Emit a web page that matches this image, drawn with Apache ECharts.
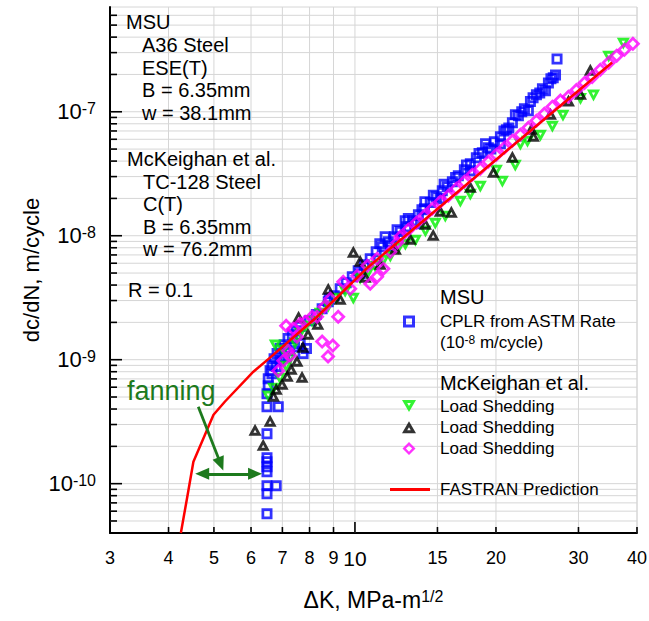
<!DOCTYPE html>
<html>
<head>
<meta charset="utf-8">
<script src="https://cdn.jsdelivr.net/npm/echarts@6/dist/echarts.min.js"></script>
<style>html,body{margin:0;padding:0;background:#fff}#c{width:649px;height:621px}</style>
</head>
<body>
<div id="c"></div>
<script>
const FONT = '"Liberation Sans", Arial, sans-serif';

// ---- axis tick values ----
const xTickLabels = [3, 4, 5, 6, 7, 8, 9, 10, 15, 20, 30, 40];
const yGridValues = [5e-11, 6e-11, 7e-11, 8e-11, 9e-11,
  1e-10, 2e-10, 3e-10, 4e-10, 5e-10, 6e-10, 7e-10, 8e-10, 9e-10,
  1e-9, 2e-9, 3e-9, 4e-9, 5e-9, 6e-9, 7e-9, 8e-9, 9e-9,
  1e-8, 2e-8, 3e-8, 4e-8, 5e-8, 6e-8, 7e-8, 8e-8, 9e-8,
  1e-7, 2e-7, 3e-7, 4e-7, 5e-7, 6e-7];
const yTickLabels = [1e-10, 1e-9, 1e-8, 1e-7];

// ---- data: [deltaK (MPa-m^1/2), dc/dN (m/cycle)] ----
const msuCplr = [
  [6.49,5.73e-11],[6.49,8.3e-11],[6.49,9.64e-11],[6.79,9.6e-11],[6.49,1.25e-10],[6.49,1.37e-10],
  [6.49,1.5e-10],[6.49,1.62e-10],[6.49,2.53e-10],[6.49,4.18e-10],[6.86,4.18e-10],[6.49,5.32e-10],[6.53,6.17e-10],
  [6.53,7.03e-10],[6.59,8.15e-10],[6.65,9.12e-10],[6.72,1.02e-9],[6.82,1.12e-9],[6.92,1.23e-9],[7.06,1.32e-9],
  [7.2,1.48e-9],[7.35,1.59e-9],[7.5,1.71e-9],[7.64,1.85e-9],[6.65,7.7e-10],[6.79,8.8e-10],[6.92,9.8e-10],
  [7.08,1.06e-9],[7.25,1.18e-9],[7.43,1.27e-9],[7.64,1.35e-9],[7.75,1.12e-9],[7.88,1.23e-9],
  [7.99,2.06e-9],[8.27,2.31e-9],[8.51,2.58e-9],[8.77,2.94e-9],[9.03,3.28e-9],[9.3,3.74e-9],[9.58,4.18e-9],
  [9.87,4.67e-9],[10.16,5.22e-9],[10.47,5.83e-9],[10.78,6.53e-9],
  [11.1,7.43e-9],[11.44,8.15e-9],[11.78,8.95e-9],[12.13,9.82e-9],[12.5,1.08e-8],[12.88,1.18e-8],[13.26,1.32e-8],
  [13.66,1.48e-8],[14.07,1.65e-8],[14.48,1.85e-8],[14.92,2.06e-8],[15.36,2.31e-8],[15.74,2.48e-8],[16.14,2.72e-8],
  [16.62,3.05e-8],[17.12,3.4e-8],[17.63,3.81e-8],[18.16,4.26e-8],[18.7,4.67e-8],[19.26,5.12e-8],[19.84,5.73e-8],
  [20.44,6.28e-8],[21.05,7.16e-8],[21.68,8.15e-8],[22.33,9.28e-8],[23.0,1.06e-7],[23.69,1.21e-7],[24.4,1.37e-7],
  [25.13,1.53e-7],[25.88,1.71e-7],[26.5,1.88e-7],[27.0,2.67e-7],
  [15.2,1.99e-8],[17.63,3.34e-8],[20.44,5.52e-8],[23.45,1.02e-7],[25.5,1.48e-7],[13.46,1.25e-8],[11.9,8.15e-9],
  [10.26,4.94e-9],[8.81,3.1e-9],[11.6,9.8e-9],[12.8,1.32e-8],[14.1,1.88e-8],[19.0,5.52e-8],[22.0,9.46e-8],
  [11.3,8.6e-9],[12.3,1.12e-8],[13.0,1.38e-8],[13.9,1.62e-8],[14.7,2.12e-8],[15.5,2.6e-8],[16.4,2.95e-8],
  [17.3,3.72e-8],[18.4,4.6e-8],[19.5,5.0e-8],[20.8,7.0e-8],[21.3,7.4e-8],[22.7,1.0e-7],[24.0,1.3e-7],
  [24.8,1.42e-7],[26.2,1.85e-7],[26.8,1.98e-7]
];
const mckGreen = [
  [6.53,5.04e-10],[6.7,5.83e-10],[6.92,7.03e-10],[6.76,1.3e-9],[7.03,1.18e-9],[7.27,1.02e-9],[7.13,8.79e-10],
  [7.45,1.35e-9],[7.64,1.62e-9],[7.86,1.85e-9],[8.1,2.02e-9],[8.43,2.35e-9],[8.77,2.67e-9],[9.12,3.1e-9],
  [9.53,3.53e-9],[9.92,3.1e-9],[10.26,4.5e-9],[10.68,5.04e-9],[11.04,5.62e-9],[11.5,6.28e-9],[11.9,6.78e-9],
  [12.37,7.85e-9],[12.81,8.46e-9],[13.46,9.12e-9],[14.14,1.08e-8],[14.84,1.25e-8],[15.59,1.42e-8],[16.79,1.88e-8],
  [17.63,2.14e-8],[18.52,2.48e-8],[20.04,3.34e-8],[20.64,2.72e-8],[21.99,3.67e-8],[22.55,5.42e-8],[23.35,5.73e-8],
  [24.88,6.4e-8],[26.39,7.57e-8],[27.8,9.28e-8],[30.3,1.27e-7],[32.3,1.35e-7],[34.8,2.78e-7],[37.4,3.53e-7]
];
const mckBlack = [
  [6.12,2.72e-10],[6.37,2.06e-10],[6.59,3.22e-10],[6.79,5.83e-10],[6.99,6.4e-10],[6.7,5.13e-10],[7.17,7.43e-10],
  [7.71,7.29e-10],[7.31,8.46e-10],[7.52,9.82e-10],[7.94,1.62e-9],[7.74,1.27e-9],[7.58,2.22e-9],[8.77,3.74e-9],
  [8.33,1.95e-9],[9.3,3.1e-9],[9.92,7.43e-9],[10.26,6.28e-9],[10.52,4.67e-9],[11.32,5.94e-9],[12.2,7.85e-9],
  [13.13,9.46e-9],[14.69,1.02e-8],[16.06,1.56e-8],[14.14,1.25e-8],[15.21,1.59e-8],[17.63,2.48e-8],[19.75,3.28e-8],
  [21.68,4.34e-8],[24.04,6.4e-8],[26.14,9.63e-8],[28.56,1.23e-7],[31.8,2.18e-7],[30.3,1.4e-7],[23.8,7.29e-8]
];
const mckMagenta = [
  [6.86,8.15e-10],[7.03,9.82e-10],[7.2,1.18e-9],[7.27,1.08e-9],[7.13,1.88e-9],[7.38,1.78e-9],[7.64,1.95e-9],
  [7.83,2.02e-9],[8.1,2.22e-9],[8.3,2.22e-9],[8.51,1.4e-9],[8.97,1.3e-9],[8.76,1.06e-9],[9.21,2.22e-9],
  [8.86,3.1e-9],[8.6,2.67e-9],[9.44,4.26e-9],[9.77,3.74e-9],[10.11,4.75e-9],[10.63,5.73e-9],[10.78,4.1e-9],
  [11.15,4.67e-9],[11.5,5.42e-9],[11.9,7.43e-9],[11.15,6.53e-9],[12.32,8.79e-9],[7.52,1.53e-9],
  [12.5,9.82e-9],[13.0,1.12e-8],[13.53,1.27e-8],[14.07,1.45e-8],[14.62,1.65e-8],[15.21,1.88e-8],[15.82,2.1e-8],
  [16.46,2.39e-8],[17.12,2.72e-8],[17.8,3.1e-8],[18.52,3.47e-8],[19.26,3.95e-8],[20.04,4.5e-8],[20.84,5.12e-8],
  [21.68,5.83e-8],[22.55,6.53e-8],[23.45,7.43e-8],[24.4,8.46e-8],[25.37,9.63e-8],[26.39,1.1e-7],[27.45,1.23e-7],
  [28.56,1.32e-7],[29.7,1.5e-7],[30.9,1.71e-7],[32.1,1.91e-7],[33.4,2.18e-7],[34.8,2.48e-7],[36.2,2.83e-7],
  [37.6,3.16e-7],[39.2,3.53e-7]
];
const fastran = [
  [4.25,4.0e-11],[4.38,7.6e-11],[4.52,1.5e-10],[4.99,3.6e-10],[5.28,4.6e-10],[6.07,8.0e-10],[6.55,1.02e-9],
  [8.29,2.21e-9],[10.68,5.6e-9],[20.44,4.4e-8],[35.4,2.5e-7]
];
// "fanning" annotation arrows, in data coordinates
const fanningDiagonal = [[4.63,4.18e-10],[5.17,1.44e-10]];
const fanningHorizontal = [[4.72,1.2e-10],[6.12,1.2e-10]];

const annotationText = ['MSU','A36 Steel','ESE(T)','B = 6.35mm','w = 38.1mm',
  'McKeighan et al.','TC-128 Steel','C(T)','B = 6.35mm','w = 76.2mm','R = 0.1'];
const annotationPos = [[126,22],[142,45],[142,68],[142,90],[142,113],
  [127,159],[143,182],[143,204],[143,227],[143,249],[128,290]];

const GRID = '#d6d6d6';
const DKGREEN = '#1d7a1d';
// hollow marker outlines as ring paths (outer contour + reversed inner contour)
const SQUARE_RING = 'path://M0,0H12V12H0Z M3,3V9H9V3Z';
const DOWN_TRI_RING = 'path://M0,0L14,0L7,12Z M5.22,3L7,6.05L8.78,3Z';
const UP_TRI_RING = 'path://M7,0L14,12L0,12Z M7,5.95L5.22,9L8.78,9Z';
const DIAMOND_RING = 'path://M7,0L14,7L7,14L0,7Z M7,3.68L3.68,7L7,10.32L10.32,7Z';

function isDecade(v) { const l = Math.log10(v); return Math.abs(l - Math.round(l)) < 1e-6; }

const chart = echarts.init(document.getElementById('c'), null, {renderer: 'svg'});
chart.setOption({
  animation: false,
  backgroundColor: '#fff',
  grid: {left: 110, top: 7, right: 12, bottom: 88, show: true, borderColor: GRID, borderWidth: 1, backgroundColor: 'transparent'},
  xAxis: {
    type: 'log', logBase: 10, min: 3, max: 40,
    axisLine: {lineStyle: {color: '#000', width: 2}},
    axisTick: {show: false}, axisLabel: {show: false}, splitLine: {show: false},
    name: '{a|ΔK, MPa-m}{s|1/2}', nameLocation: 'middle', nameGap: 55,
    nameTextStyle: {rich: {
      a: {fontSize: 23, fontFamily: FONT, color: '#000'},
      s: {fontSize: 16, fontFamily: FONT, color: '#000', verticalAlign: 'top'}
    }}
  },
  yAxis: {
    type: 'log', logBase: 10, min: 4e-11, max: 7e-7,
    axisLine: {lineStyle: {color: '#000', width: 2}},
    axisTick: {show: false}, axisLabel: {show: false}, splitLine: {show: false},
    name: 'dc/dN, m/cycle', nameLocation: 'middle', nameGap: 68,
    nameTextStyle: {fontSize: 22, fontFamily: FONT, color: '#000'}
  },
  legend: [
    {data: ['CPLR from ASTM Rate'], left: 403, top: 313, orient: 'vertical', padding: 0,
     itemWidth: 12, itemHeight: 12, selectedMode: false,
     textStyle: {fontSize: 17, fontFamily: FONT, color: '#000', padding: [0, 0, 0, 20]}},
    {data: ['Load Shedding A', 'Load Shedding B', 'Load Shedding C'], formatter: () => 'Load Shedding',
     left: 402, top: 397.5, orient: 'vertical', padding: 0, itemGap: 4.3,
     itemWidth: 14, itemHeight: 13, selectedMode: false,
     textStyle: {fontSize: 17, fontFamily: FONT, color: '#000', padding: [0, 0, 0, 19]}},
    {data: [{name: 'FASTRAN Prediction', icon: 'rect'}], left: 390, top: 481, orient: 'vertical', padding: 0,
     itemWidth: 40, itemHeight: 3, selectedMode: false,
     textStyle: {fontSize: 17, fontFamily: FONT, color: '#000', padding: [0, 0, 0, 5]}}
  ],
  graphic: [
    ...annotationText.map((t, i) => ({type: 'text', x: annotationPos[i][0], y: annotationPos[i][1], silent: true, z: 50,
      style: {text: t, fontSize: 20, fontFamily: FONT, fill: '#000', verticalAlign: 'middle'}})),
    {type: 'text', x: 440, y: 297, silent: true, z: 50, style: {text: 'MSU', fontSize: 20, fontFamily: FONT, fill: '#000', verticalAlign: 'middle'}},
    {type: 'text', x: 440, y: 342, silent: true, z: 50, style: {text: '(10{s|-8} m/cycle)', fontSize: 17, fontFamily: FONT, fill: '#000', verticalAlign: 'middle',
      rich: {s: {fontSize: 12, fontFamily: FONT, fill: '#000', verticalAlign: 'top'}}}},
    {type: 'text', x: 440, y: 383, silent: true, z: 50, style: {text: 'McKeighan et al.', fontSize: 20, fontFamily: FONT, fill: '#000', verticalAlign: 'middle'}},
    {type: 'text', x: 127, y: 391, silent: true, z: 50, style: {text: 'fanning', fontSize: 27, fontFamily: FONT, fill: DKGREEN, verticalAlign: 'middle'}}
  ],
  series: [
    {type: 'custom', name: 'xaxis', silent: true, z: 1, clip: false,
     data: xTickLabels.map(v => [v, 1e-9]),
     renderItem: (params, api) => {
       const cs = params.coordSys; const v = api.value(0);
       const px = api.coord([v, api.value(1)])[0];
       const bottom = cs.y + cs.height; const major = Math.abs(v - 10) < 1e-9;
       const ch = [];
       if (v > 3.001) {
         ch.push({type: 'line', shape: {x1: px, y1: cs.y, x2: px, y2: bottom}, style: {stroke: GRID, lineWidth: 1}});
         ch.push({type: 'line', shape: {x1: px, y1: bottom, x2: px, y2: bottom - (major ? 11 : 6)}, style: {stroke: '#000', lineWidth: 1.6}});
       }
       ch.push({type: 'text', x: px, y: bottom + 25, style: {text: String(v), fontSize: major ? 21 : 18, fontFamily: FONT, fill: '#000', align: 'center', verticalAlign: 'middle'}});
       return {type: 'group', children: ch};
     }},
    {type: 'custom', name: 'ygrid', silent: true, z: 1, clip: false,
     data: yGridValues.map(v => [3, v]),
     renderItem: (params, api) => {
       const cs = params.coordSys; const v = api.value(1);
       const py = api.coord([api.value(0), v])[1];
       const major = isDecade(v);
       return {type: 'group', children: [
         {type: 'line', shape: {x1: cs.x, y1: py, x2: cs.x + cs.width, y2: py}, style: {stroke: GRID, lineWidth: 1}},
         {type: 'line', shape: {x1: cs.x, y1: py, x2: cs.x + (major ? 12 : 7), y2: py}, style: {stroke: '#000', lineWidth: 1.6}}
       ]};
     }},
    {type: 'custom', name: 'ylabels', silent: true, z: 1, clip: false,
     data: yTickLabels.map(v => [3, v]),
     renderItem: (params, api) => {
       const cs = params.coordSys; const v = api.value(1);
       const py = api.coord([api.value(0), v])[1];
       const e = Math.round(Math.log10(v));
       return {type: 'text', x: cs.x - 14, y: py, style: {text: '{b|10}{s|' + e + '}', align: 'right', verticalAlign: 'middle',
         rich: {b: {fontSize: 22, fontFamily: FONT, fill: '#000'}, s: {fontSize: 16, fontFamily: FONT, fill: '#000', verticalAlign: 'top'}}}};
     }},
    {name: 'CPLR from ASTM Rate', type: 'scatter', data: msuCplr, symbol: SQUARE_RING, symbolSize: 11,
     itemStyle: {color: '#0000ff', borderWidth: 0}},
    {name: 'Load Shedding A', type: 'scatter', data: mckGreen, symbol: DOWN_TRI_RING, symbolSize: [13, 12],
     itemStyle: {color: '#00f000', borderWidth: 0}},
    {name: 'Load Shedding B', type: 'scatter', data: mckBlack, symbol: UP_TRI_RING, symbolSize: [13, 12],
     itemStyle: {color: '#000000', borderWidth: 0}},
    {name: 'Load Shedding C', type: 'scatter', data: mckMagenta, symbol: DIAMOND_RING, symbolSize: 15,
     itemStyle: {color: '#ff00ff', borderWidth: 0}},
    {name: 'FASTRAN Prediction', type: 'line', data: fastran, showSymbol: false, symbol: 'none',
     lineStyle: {color: '#ff0000', width: 2.5}, itemStyle: {color: '#ff0000'}, z: 4},
    {name: 'fanning', type: 'scatter', data: [], silent: true, z: 5,
     markLine: {silent: true, animation: false, symbolSize: [12, 14],
       lineStyle: {color: DKGREEN, width: 2.8, type: 'solid'}, label: {show: false},
       emphasis: {disabled: true},
       data: [
         [{coord: fanningDiagonal[0], symbol: 'none'}, {coord: fanningDiagonal[1], symbol: 'triangle'}],
         [{coord: fanningHorizontal[0], symbol: 'triangle'}, {coord: fanningHorizontal[1], symbol: 'triangle'}]
       ]}}
  ]
});
</script>
</body>
</html>
